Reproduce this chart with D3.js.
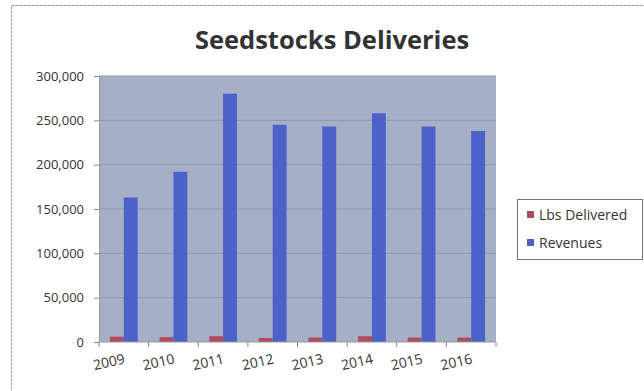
<!DOCTYPE html>
<html><head><meta charset="utf-8">
<script src="https://cdn.jsdelivr.net/npm/d3@7"></script>
<style>body{margin:0;background:#fff}svg{display:block}</style>
</head><body>
<svg id="c" width="644" height="391"></svg>
<script>
const categories = ["2009","2010","2011","2012","2013","2014","2015","2016"];
const lbsDelivered = [6000,5500,6500,4500,5000,6500,5000,5000];
const revenues = [163000,192000,280000,245000,243000,258000,243000,238000];
const yTicks = [0,50000,100000,150000,200000,250000,300000];
const seriesNames = ["Lbs Delivered","Revenues"];
const colors = ["#b04a5e","#4d62c9"];

const svg = d3.select("#c");
const font = "'Open Sans', 'Liberation Sans', sans-serif";
// chart border
svg.append("rect").attr("x",11.5).attr("y",5.5).attr("width",640).attr("height",390)
  .attr("fill","#fff").attr("stroke","#9a9a9a").attr("stroke-width",1).attr("stroke-dasharray","3,1");

const L=99,R=496,T=76,B=342;
const x = d3.scaleBand().domain(categories).range([L,R]).paddingInner(0.44).paddingOuter(0.22);
const xs = d3.scaleBand().domain(seriesNames).range([0,x.bandwidth()]);
const y = d3.scaleLinear().domain([0,300000]).range([B,T]);

svg.append("rect").attr("x",L).attr("y",T).attr("width",R-L).attr("height",B-T).attr("fill","#a5b0c7");
// gridlines
svg.append("g").selectAll("line").data(yTicks.filter(d=>d>0)).join("line")
  .attr("x1",L).attr("x2",R).attr("y1",d=>y(d)).attr("y2",d=>y(d))
  .attr("stroke","#8b97b0").attr("stroke-width",1);

const data = categories.map((c,i)=>({c, v:[lbsDelivered[i],revenues[i]]}));
const g = svg.append("g").selectAll("g").data(data).join("g").attr("transform",d=>`translate(${x(d.c)},0)`);
g.selectAll("rect").data(d=>d.v.map((v,j)=>({s:seriesNames[j],v,j}))).join("rect")
  .attr("x",d=>xs(d.s)).attr("width",xs.bandwidth()).attr("y",d=>y(d.v)).attr("height",d=>B-y(d.v))
  .attr("fill",d=>colors[d.j]);

// y axis
const ya = svg.append("g").attr("transform",`translate(${L},0)`)
  .call(d3.axisLeft(y).tickValues(yTicks).tickFormat(d3.format(",")).tickSize(5).tickPadding(10));
ya.select(".domain").attr("stroke","#999");
ya.selectAll(".tick line").attr("stroke","#888");
ya.selectAll("text").attr("font-family",font).attr("font-size",13).attr("fill","#333");

// x axis
const xa = svg.append("g").attr("transform",`translate(0,${B})`)
  .call(d3.axisBottom(x).tickSize(0).tickPadding(0));
xa.select(".domain").attr("stroke","#999").attr("d",`M${L},0H${R}`);
svg.append("g").selectAll("line").data(d3.range(categories.length+1)).join("line")
  .attr("x1",i=>L+i*(R-L)/categories.length).attr("x2",i=>L+i*(R-L)/categories.length)
  .attr("y1",B).attr("y2",B+5).attr("stroke","#888");
xa.selectAll(".tick text").attr("font-family",font).attr("font-size",14).attr("fill","#333")
  .attr("text-anchor","middle")
  .attr("transform","translate(-16,15) rotate(-13)");

// title
svg.append("text").attr("x",332).attr("y",49).attr("text-anchor","middle")
  .attr("font-family",font).attr("font-weight","bold").attr("font-size",25.5).attr("fill","#333")
  .text("Seedstocks Deliveries");

// legend
svg.append("rect").attr("x",517.5).attr("y",199.5).attr("width",125).attr("height",60)
  .attr("fill","#fff").attr("stroke","#777");
const lg = svg.append("g").selectAll("g").data(seriesNames).join("g")
  .attr("transform",(d,i)=>`translate(527,${216+i*28})`);
lg.append("rect").attr("x",0).attr("y",-5).attr("width",7).attr("height",7).attr("fill",(d,i)=>colors[i]);
lg.append("text").attr("x",12).attr("y",3.5).attr("font-family",font).attr("font-size",14).attr("fill","#333").text(d=>d);
</script>
</body></html>
